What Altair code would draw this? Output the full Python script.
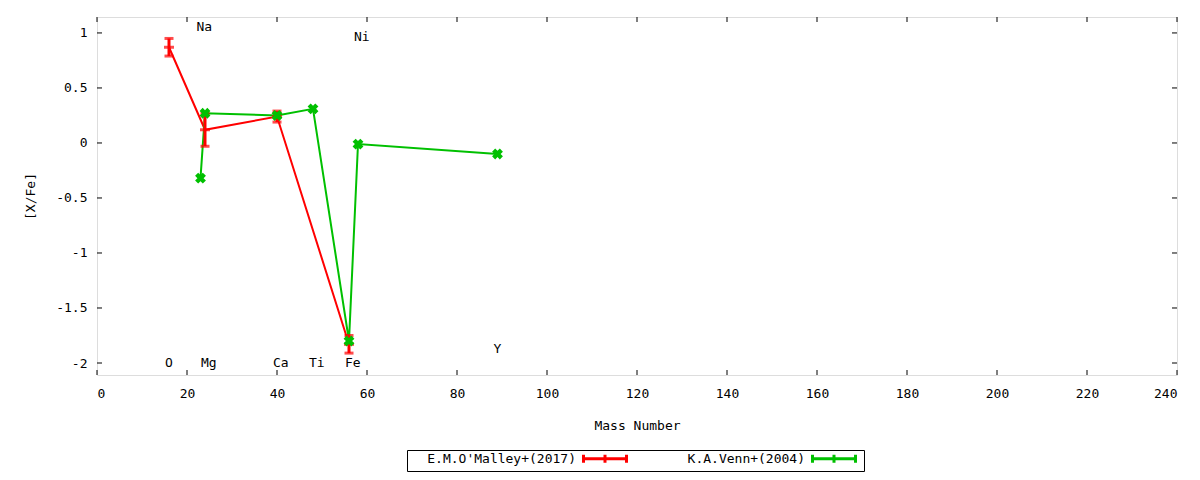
import altair as alt
import pandas as pd

# ---- data ----
series_names = ["E.M.O'Malley+(2017)", "K.A.Venn+(2004)"]
series_colors = ["#ff0000", "#00c000"]

red_el = ["O", "Mg", "Ca", "Fe"]
red_x = [16, 24, 40, 56]
red_y = [0.87, 0.12, 0.24, -1.83]
red_err = [0.08, 0.15, 0.05, 0.08]

green_el = ["Na", "Mg", "Ca", "Ti", "Fe", "Ni", "Y"]
green_x = [23, 24, 40, 48, 56, 58, 89]
green_y = [-0.32, 0.27, 0.25, 0.31, -1.80, -0.01, -0.10]

label_names = ["O", "Na", "Mg", "Ca", "Ti", "Fe", "Ni", "Y"]
label_x = [16, 23, 24, 40, 48, 56, 58, 89]
label_y = [-2.0, 1.05, -2.0, -2.0, -2.0, -2.0, 0.96, -1.87]

x_ticks = [0, 20, 40, 60, 80, 100, 120, 140, 160, 180, 200, 220, 240]
y_ticks = [1, 0.5, 0, -0.5, -1, -1.5, -2]

W, H = 1080, 358
FONT = "DejaVu Sans Mono"

red = pd.DataFrame({"el": red_el, "x": red_x, "y": red_y, "err": red_err,
                    "series": series_names[0], "order": range(len(red_x))})
red["lo"] = red["y"] - red["err"]
red["hi"] = red["y"] + red["err"]
green = pd.DataFrame({"el": green_el, "x": green_x, "y": green_y,
                      "series": series_names[1], "order": range(len(green_x))})
labels = pd.DataFrame({"name": label_names, "x": label_x, "y": label_y})
xt = pd.DataFrame({"v": x_ticks})
yt = pd.DataFrame({"v": y_ticks})

xscale = alt.Scale(domain=[0, 240], nice=False, zero=False)
yscale = alt.Scale(domain=[-2.109, 1.145], nice=False, zero=False)
# legend sample drawn to the right of its (right-aligned) label, as gnuplot does
sample_path = "M2.8,0H11.4M2.8,-0.8V0.8M11.4,-0.8V0.8M7.1,-0.8V0.8"
color = alt.Color("series:N", scale=alt.Scale(domain=series_names, range=series_colors),
                  sort=series_names,
                  legend=alt.Legend(title=None, orient="none", legendX=310, legendY=433,
                                    direction="horizontal", columns=2,
                                    strokeColor="black", padding=2,
                                    symbolType=sample_path,
                                    symbolSize=100, symbolStrokeWidth=3, symbolOffset=154,
                                    labelFont=FONT, labelFontSize=13, labelColor="black",
                                    labelAlign="right", labelOffset=0,
                                    columnPadding=5))

lab_expr = "'' + datum.value"
X = alt.X("x:Q", scale=xscale,
          axis=alt.Axis(title="Mass Number", values=x_ticks, ticks=False, domain=False, grid=False,
                        labelExpr=lab_expr,
                        labelFont=FONT, labelFontSize=13, labelColor="black", labelPadding=12,
                        titleFont=FONT, titleFontSize=13, titleFontWeight="normal",
                        titleColor="black", titlePadding=19))
Y = alt.Y("y:Q", scale=yscale,
          axis=alt.Axis(title="[X/Fe]", values=y_ticks, ticks=False, domain=False, grid=False,
                        labelExpr=lab_expr,
                        labelFont=FONT, labelFontSize=13, labelColor="black", labelPadding=10,
                        titleFont=FONT, titleFontSize=13, titleFontWeight="normal",
                        titleColor="black", titlePadding=18))

red_line = alt.Chart(red).mark_line(strokeWidth=2).encode(x=X, y=Y, color=color, order="order:Q")
red_bar = alt.Chart(red).mark_rule(strokeWidth=3, color="#ff0000").encode(
    x="x:Q", y="lo:Q", y2="hi:Q")
red_cap_lo = alt.Chart(red).mark_tick(orient="horizontal", size=9, thickness=3, color="#ff0000").encode(
    x="x:Q", y="lo:Q")
red_cap_hi = alt.Chart(red).mark_tick(orient="horizontal", size=9, thickness=3, color="#ff0000").encode(
    x="x:Q", y="hi:Q")
red_pt = alt.Chart(red).mark_tick(orient="horizontal", size=10, thickness=3, color="#ff0000").encode(
    x="x:Q", y="y:Q")

green_line = alt.Chart(green).mark_line(strokeWidth=2).encode(x="x:Q", y="y:Q", color=color,
                                                                order="order:Q")
green_pt = alt.Chart(green).mark_point(shape="cross", angle=45, filled=True, size=120,
                                       color="#00c000", opacity=1).encode(x="x:Q", y="y:Q")

text = alt.Chart(labels).mark_text(font=FONT, fontSize=13, align="left", baseline="middle",
                                   dx=-4, color="black").encode(x="x:Q", y="y:Q", text="name:N")

tick_style = dict(color="black", strokeWidth=1)
TL = 5
xb = alt.Chart(xt).mark_rule(**tick_style).encode(x="v:Q", y=alt.value(H), y2=alt.value(H - TL))
xtop = alt.Chart(xt).mark_rule(**tick_style).encode(x="v:Q", y=alt.value(0), y2=alt.value(TL))
yl = alt.Chart(yt).mark_rule(**tick_style).encode(y="v:Q", x=alt.value(0), x2=alt.value(TL))
yr = alt.Chart(yt).mark_rule(**tick_style).encode(y="v:Q", x=alt.value(W), x2=alt.value(W - TL))

chart = alt.layer(red_line, green_line, red_bar, red_cap_lo, red_cap_hi, red_pt, green_pt,
                  text, xb, xtop, yl, yr).properties(
    width=W, height=H,
    autosize=alt.AutoSizeParams(type="none"),
    padding={"left": 89, "top": 9, "right": 15, "bottom": 97},
).configure_view(stroke="black", strokeWidth=1).configure(background="white")

chart.save("out.html", embed_options={"renderer": "svg", "actions": False})
